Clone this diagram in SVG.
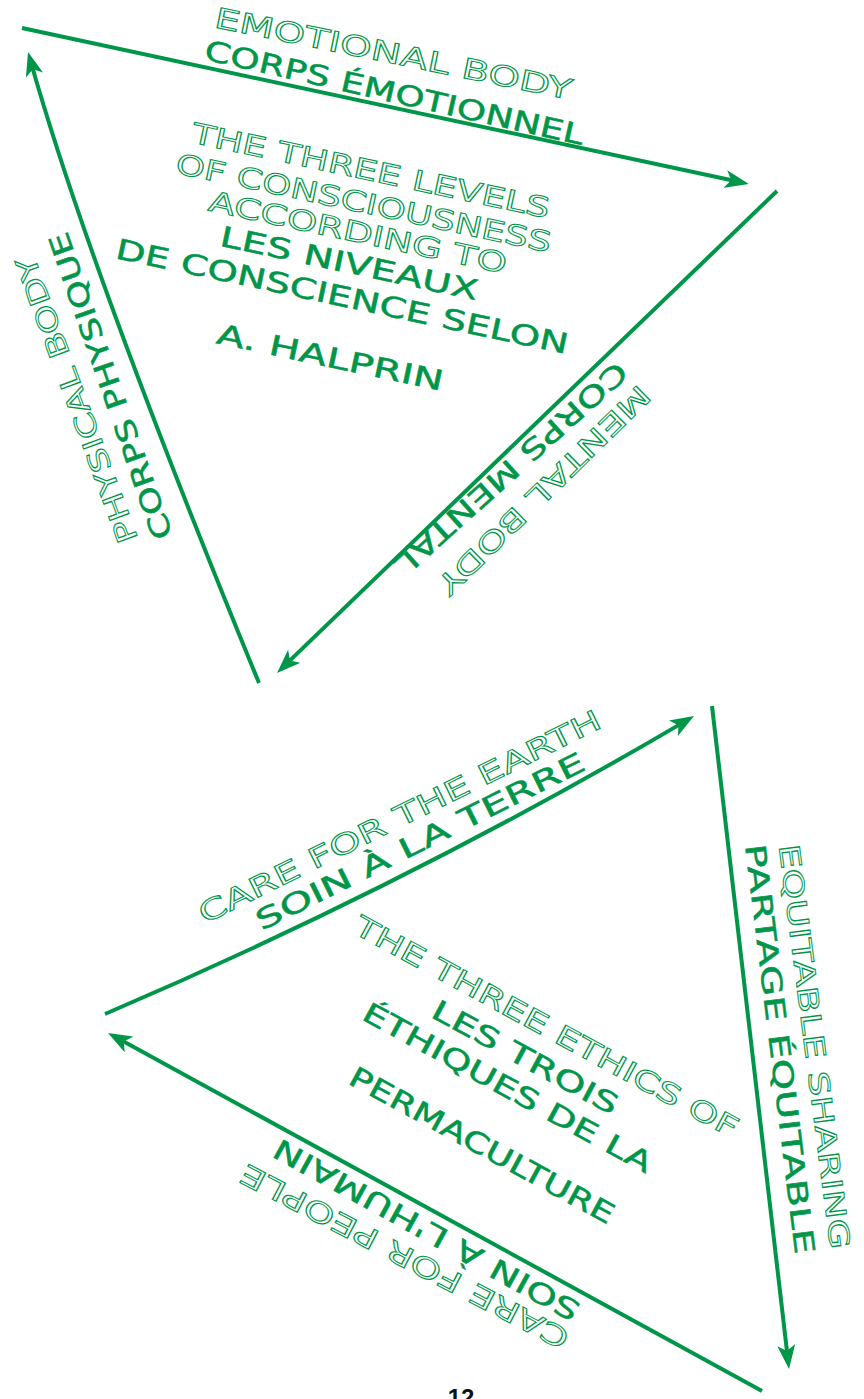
<svg xmlns="http://www.w3.org/2000/svg" width="864" height="1399" viewBox="0 0 864 1399">
<style>
.en{font-family:"DejaVu Sans","Liberation Sans",sans-serif;font-size:28px;fill:#fff;stroke:#00964a;stroke-width:1px;text-anchor:middle}
.fr{font-family:"DejaVu Sans","Liberation Sans",sans-serif;font-size:28px;fill:#00964a;stroke:#00964a;stroke-width:0.5px;text-anchor:middle}
.ln{fill:none;stroke:#00964a;stroke-width:4;marker-end:url(#ah)}
.pg{font-family:"Liberation Sans",sans-serif;font-size:24px;font-weight:bold;fill:#111;text-anchor:middle}
</style>
<defs>
<marker id="ah" viewBox="0 0 24 18" refX="16" refY="9" markerWidth="24" markerHeight="18" markerUnits="userSpaceOnUse" orient="auto">
<path d="M0,0 L24,9 L0,18 L6,9 z" fill="#00964a"/>
</marker>
</defs>
<rect width="864" height="1399" fill="#fff"/>
<g id="connectors">
<path class="ln" d="M22,28 L741,182.3"/>
<path class="ln" d="M777,191 L282.8,667.4"/>
<path class="ln" d="M259,683 Q90,272 30.2,59.7"/>
<path class="ln" d="M105,1014 Q409,884 687.1,720.1"/>
<path class="ln" d="M712,706 L788.1,1361"/>
<path class="ln" d="M762,1391 L115,1036.8"/>
</g>
<g id="emotional-body">
<text class="en" transform="translate(393.5,53.5) rotate(11.5)" y="10" textLength="364" lengthAdjust="spacingAndGlyphs">EMOTIONAL BODY</text>
<text class="fr" transform="translate(394.5,92.5) rotate(12.8)" y="10" textLength="388" lengthAdjust="spacingAndGlyphs">CORPS ÉMOTIONNEL</text>
</g>
<g id="mental-body">
<text class="en" transform="translate(544,490) rotate(135.6)" y="10" textLength="285" lengthAdjust="spacingAndGlyphs">MENTAL BODY</text>
<text class="fr" transform="translate(511,468.5) rotate(138)" y="10" textLength="302" lengthAdjust="spacingAndGlyphs">CORPS MENTAL</text>
</g>
<g id="physical-body">
<text class="en" transform="translate(76.5,400) rotate(-110.2)" y="10" textLength="303" lengthAdjust="spacingAndGlyphs">PHYSICAL BODY</text>
<text class="fr" transform="translate(110.5,386) rotate(-109.2)" y="10" textLength="323" lengthAdjust="spacingAndGlyphs">CORPS PHYSIQUE</text>
</g>
<g id="levels-title" transform="translate(371,170.5) rotate(12)">
<text class="en" x="0" y="10" textLength="365" lengthAdjust="spacingAndGlyphs">THE THREE LEVELS</text>
<text class="en" x="-0.5" y="43" textLength="383" lengthAdjust="spacingAndGlyphs">OF CONSCIOUSNESS</text>
<text class="en" x="0" y="73" textLength="304" lengthAdjust="spacingAndGlyphs">ACCORDING TO</text>
<text class="fr" x="-2" y="105" textLength="263" lengthAdjust="spacingAndGlyphs">LES NIVEAUX</text>
<text class="fr" x="-2" y="139" textLength="462" lengthAdjust="spacingAndGlyphs">DE CONSCIENCE SELON</text>
<text class="fr" x="-1" y="201" textLength="231" lengthAdjust="spacingAndGlyphs">A. HALPRIN</text>
</g>
<g id="care-earth">
<text class="en" transform="translate(399.5,816.5) rotate(-26.3)" y="10" textLength="445" lengthAdjust="spacingAndGlyphs">CARE FOR THE EARTH</text>
<text class="fr" transform="translate(420,841) rotate(-26.4)" y="10" textLength="364" lengthAdjust="spacingAndGlyphs">SOIN À LA TERRE</text>
</g>
<g id="equitable-sharing">
<text class="en" transform="translate(814.5,1046.5) rotate(82.7)" y="10" textLength="408" lengthAdjust="spacingAndGlyphs">EQUITABLE SHARING</text>
<text class="fr" transform="translate(780,1049) rotate(83)" y="10" textLength="413" lengthAdjust="spacingAndGlyphs">PARTAGE ÉQUITABLE</text>
</g>
<g id="care-people">
<text class="en" transform="translate(404.5,1256.5) rotate(-152.5)" y="10" textLength="366" lengthAdjust="spacingAndGlyphs">CARE FOR PEOPLE</text>
<text class="fr" transform="translate(426.5,1230) rotate(-151.1)" y="10" textLength="345" lengthAdjust="spacingAndGlyphs">SOIN À L'HUMAIN</text>
</g>
<g id="ethics-title" transform="translate(546.5,1026.5) rotate(28.5)">
<text class="en" x="0" y="10" textLength="432" lengthAdjust="spacingAndGlyphs">THE THREE ETHICS OF</text>
<text class="fr" x="-4" y="47" textLength="208" lengthAdjust="spacingAndGlyphs">LES TROIS</text>
<text class="fr" x="-5" y="82" textLength="325" lengthAdjust="spacingAndGlyphs">ÉTHIQUES DE LA</text>
<text class="fr" x="0" y="145" textLength="297" lengthAdjust="spacingAndGlyphs">PERMACULTURE</text>
</g>
<text class="pg" x="461" y="1406">12</text>
</svg>
